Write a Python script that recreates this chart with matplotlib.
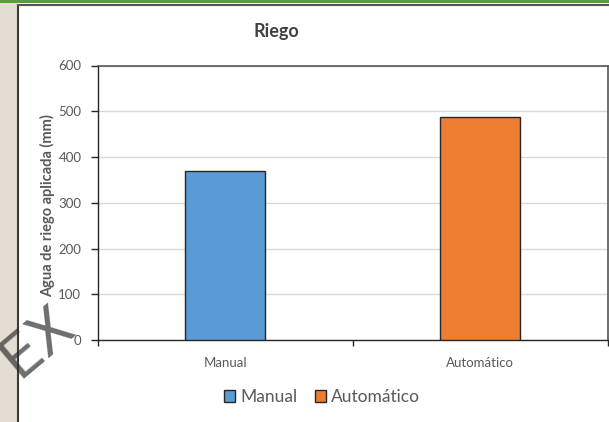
import matplotlib.pyplot as plt
from matplotlib.patches import Patch, Rectangle
from matplotlib.lines import Line2D

plt.rcParams["font.family"] = ["Lato", "DejaVu Sans"]

categories = ["Manual", "Automático"]
riego = [369, 487]
colors = ["#5b9bd5", "#ed7d31"]
yticks = [0, 100, 200, 300, 400, 500, 600]

W, H = 609, 422
fig = plt.figure(figsize=(W / 100, H / 100), dpi=100)
fig.patch.set_facecolor("white")

def fx(px):
    return px / W

def fy(py):
    return 1 - py / H

# window chrome around the chart
fig.add_artist(Rectangle((0, 0), fx(16.5), 1, transform=fig.transFigure,
                         facecolor="#e3ddd3", edgecolor="none", zorder=0))
fig.add_artist(Rectangle((0, fy(2.5)), 1, fy(0) - fy(2.5), transform=fig.transFigure,
                         facecolor="#5a9e3c", edgecolor="none", zorder=0))
fig.add_artist(Line2D([fx(17.5), fx(17.5)], [0, fy(4.5)], transform=fig.transFigure,
                      color="#3a3a3a", lw=1.5))
fig.add_artist(Line2D([fx(17.5), 1], [fy(4.5), fy(4.5)], transform=fig.transFigure,
                      color="#555555", lw=1.5))

ax = fig.add_axes([fx(98), fy(340), fx(607.5) - fx(98), fy(65.5) - fy(340)])
ax.set_facecolor("white")

x = range(len(categories))
ax.bar(x, riego, width=0.314, color=colors, edgecolor="#262626", linewidth=1, zorder=3)

ax.set_xlim(-0.5, 1.5)
ax.set_ylim(0, 600)
ax.set_yticks(yticks)
ax.yaxis.grid(True, color="#d9d9d9", linewidth=1, zorder=0)
ax.set_axisbelow(True)

for side in ["left", "bottom"]:
    ax.spines[side].set_color("#262626")
    ax.spines[side].set_linewidth(1)
for side in ["top", "right"]:
    ax.spines[side].set_color("#555555")
    ax.spines[side].set_linewidth(1.2)

ax.tick_params(axis="y", direction="out", length=5, width=1, color="#262626",
               labelsize=9.5, labelcolor="#595959", pad=7)
ax.set_xticks([-0.5, 0.5, 1.5])
ax.set_xticklabels([])
ax.tick_params(axis="x", which="major", direction="out", length=4, width=1, color="#262626")
ax.set_xticks(list(x), minor=True)
ax.set_xticklabels(categories, minor=True)
ax.tick_params(axis="x", which="minor", length=0, labelsize=9.5, labelcolor="#595959", pad=12)

ax.set_ylabel("Agua de riego aplicada (mm)", fontsize=10.5, fontweight="bold",
              color="#595959")
ax.yaxis.set_label_coords(-0.085, 0.49)

fig.text(fx(276), fy(32), "Riego", ha="center", va="center", fontsize=13,
         fontweight="bold", color="#404040")

handles = [Patch(facecolor=c, edgecolor="#262626", linewidth=1) for c in colors]
fig.legend(handles, categories, loc="center", bbox_to_anchor=(fx(322), fy(397)),
           ncol=2, frameon=False, fontsize=12.5, handlelength=0.65, handleheight=0.65,
           handletextpad=0.3, columnspacing=1.0, labelcolor="#595959")

# faint watermark in the lower left corner
fig.text(fx(37), fy(342), "EX", rotation=40, ha="center", va="center",
         family="DejaVu Sans", fontsize=42, color="#303030", alpha=0.7)

fig.savefig("out.png", dpi=100)
